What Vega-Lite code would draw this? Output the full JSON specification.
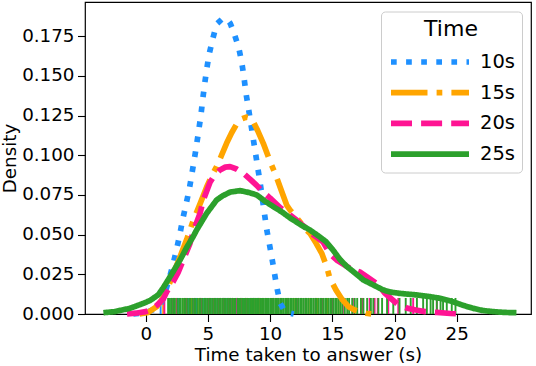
{
  "$schema": "https://vega.github.io/schema/vega-lite/v6.json",
  "width": 446,
  "height": 312,
  "autosize": {"type": "none"},
  "padding": {"left": 85, "top": 2, "right": 5, "bottom": 52},
  "background": "white",
  "datasets": {
    "kde": [
      {"s": "10s", "t": -1.0, "d": 0},
      {"s": "10s", "t": -0.4, "d": 0.0005},
      {"s": "10s", "t": 0.2, "d": 0.0015},
      {"s": "10s", "t": 0.7, "d": 0.003},
      {"s": "10s", "t": 1.15, "d": 0.0055},
      {"s": "10s", "t": 1.5, "d": 0.012},
      {"s": "10s", "t": 1.9, "d": 0.0225},
      {"s": "10s", "t": 2.22, "d": 0.032},
      {"s": "10s", "t": 2.49, "d": 0.041},
      {"s": "10s", "t": 2.76, "d": 0.0508},
      {"s": "10s", "t": 2.97, "d": 0.0596},
      {"s": "10s", "t": 3.24, "d": 0.069},
      {"s": "10s", "t": 3.5, "d": 0.0785},
      {"s": "10s", "t": 3.75, "d": 0.09},
      {"s": "10s", "t": 4.0, "d": 0.102},
      {"s": "10s", "t": 4.25, "d": 0.115},
      {"s": "10s", "t": 4.45, "d": 0.126},
      {"s": "10s", "t": 4.58, "d": 0.135},
      {"s": "10s", "t": 4.74, "d": 0.145},
      {"s": "10s", "t": 4.9, "d": 0.154},
      {"s": "10s", "t": 5.1, "d": 0.1637},
      {"s": "10s", "t": 5.38, "d": 0.173},
      {"s": "10s", "t": 5.7, "d": 0.1826},
      {"s": "10s", "t": 6.1, "d": 0.1855},
      {"s": "10s", "t": 6.5, "d": 0.186},
      {"s": "10s", "t": 6.8, "d": 0.183},
      {"s": "10s", "t": 7.1, "d": 0.1768},
      {"s": "10s", "t": 7.47, "d": 0.168},
      {"s": "10s", "t": 7.72, "d": 0.1585},
      {"s": "10s", "t": 7.9, "d": 0.149},
      {"s": "10s", "t": 8.06, "d": 0.139},
      {"s": "10s", "t": 8.25, "d": 0.13},
      {"s": "10s", "t": 8.65, "d": 0.11},
      {"s": "10s", "t": 9.19, "d": 0.083},
      {"s": "10s", "t": 9.73, "d": 0.053},
      {"s": "10s", "t": 10.13, "d": 0.036},
      {"s": "10s", "t": 10.53, "d": 0.0172},
      {"s": "10s", "t": 10.8, "d": 0.0069},
      {"s": "10s", "t": 11.1, "d": 0.0028},
      {"s": "10s", "t": 11.5, "d": 0.0007},
      {"s": "10s", "t": 11.9, "d": 0},
      {"s": "15s", "t": -0.5, "d": 0},
      {"s": "15s", "t": 0.2, "d": 0.001},
      {"s": "15s", "t": 0.88, "d": 0.0046},
      {"s": "15s", "t": 1.3, "d": 0.009},
      {"s": "15s", "t": 1.69, "d": 0.015},
      {"s": "15s", "t": 2.2, "d": 0.025},
      {"s": "15s", "t": 2.76, "d": 0.036},
      {"s": "15s", "t": 3.3, "d": 0.047},
      {"s": "15s", "t": 3.83, "d": 0.059},
      {"s": "15s", "t": 4.4, "d": 0.07},
      {"s": "15s", "t": 4.9, "d": 0.08},
      {"s": "15s", "t": 5.3, "d": 0.087},
      {"s": "15s", "t": 5.7, "d": 0.0928},
      {"s": "15s", "t": 6.1, "d": 0.1},
      {"s": "15s", "t": 6.5, "d": 0.1075},
      {"s": "15s", "t": 6.9, "d": 0.114},
      {"s": "15s", "t": 7.3, "d": 0.1195},
      {"s": "15s", "t": 7.7, "d": 0.1228},
      {"s": "15s", "t": 8.1, "d": 0.124},
      {"s": "15s", "t": 8.4, "d": 0.1234},
      {"s": "15s", "t": 8.65, "d": 0.121},
      {"s": "15s", "t": 9.0, "d": 0.1155},
      {"s": "15s", "t": 9.45, "d": 0.1075},
      {"s": "15s", "t": 10.0, "d": 0.096},
      {"s": "15s", "t": 10.4, "d": 0.0886},
      {"s": "15s", "t": 10.8, "d": 0.08},
      {"s": "15s", "t": 11.33, "d": 0.0686},
      {"s": "15s", "t": 11.6, "d": 0.0655},
      {"s": "15s", "t": 12.3, "d": 0.059},
      {"s": "15s", "t": 12.9, "d": 0.053},
      {"s": "15s", "t": 13.2, "d": 0.0508},
      {"s": "15s", "t": 13.7, "d": 0.0445},
      {"s": "15s", "t": 14.15, "d": 0.0382},
      {"s": "15s", "t": 14.55, "d": 0.0298},
      {"s": "15s", "t": 14.8, "d": 0.0225},
      {"s": "15s", "t": 15.3, "d": 0.015},
      {"s": "15s", "t": 15.8, "d": 0.009},
      {"s": "15s", "t": 16.3, "d": 0.0046},
      {"s": "15s", "t": 16.8, "d": 0.0025},
      {"s": "15s", "t": 17.2, "d": 0.0015},
      {"s": "15s", "t": 17.7, "d": 0.0005},
      {"s": "15s", "t": 18.2, "d": 0},
      {"s": "20s", "t": -1.5, "d": 0},
      {"s": "20s", "t": -0.8, "d": 0.0005},
      {"s": "20s", "t": 0.0, "d": 0.0015},
      {"s": "20s", "t": 0.35, "d": 0.0025},
      {"s": "20s", "t": 0.9, "d": 0.0055},
      {"s": "20s", "t": 1.41, "d": 0.0095},
      {"s": "20s", "t": 1.69, "d": 0.014},
      {"s": "20s", "t": 2.22, "d": 0.0205},
      {"s": "20s", "t": 2.6, "d": 0.026},
      {"s": "20s", "t": 3.02, "d": 0.034},
      {"s": "20s", "t": 3.56, "d": 0.0445},
      {"s": "20s", "t": 3.83, "d": 0.052},
      {"s": "20s", "t": 4.37, "d": 0.0634},
      {"s": "20s", "t": 4.63, "d": 0.0718},
      {"s": "20s", "t": 5.17, "d": 0.0830},
      {"s": "20s", "t": 5.5, "d": 0.087},
      {"s": "20s", "t": 5.97, "d": 0.0907},
      {"s": "20s", "t": 6.4, "d": 0.0925},
      {"s": "20s", "t": 6.78, "d": 0.0928},
      {"s": "20s", "t": 7.3, "d": 0.0913},
      {"s": "20s", "t": 7.85, "d": 0.0886},
      {"s": "20s", "t": 8.4, "d": 0.0848},
      {"s": "20s", "t": 8.92, "d": 0.081},
      {"s": "20s", "t": 9.4, "d": 0.077},
      {"s": "20s", "t": 10.0, "d": 0.073},
      {"s": "20s", "t": 10.8, "d": 0.067},
      {"s": "20s", "t": 11.5, "d": 0.063},
      {"s": "20s", "t": 12.14, "d": 0.059},
      {"s": "20s", "t": 12.9, "d": 0.054},
      {"s": "20s", "t": 13.47, "d": 0.05},
      {"s": "20s", "t": 14.26, "d": 0.0453},
      {"s": "20s", "t": 14.8, "d": 0.038},
      {"s": "20s", "t": 15.35, "d": 0.034},
      {"s": "20s", "t": 16.4, "d": 0.0288},
      {"s": "20s", "t": 17.2, "d": 0.0265},
      {"s": "20s", "t": 17.76, "d": 0.0235},
      {"s": "20s", "t": 18.6, "d": 0.019},
      {"s": "20s", "t": 19.24, "d": 0.013},
      {"s": "20s", "t": 19.9, "d": 0.0085},
      {"s": "20s", "t": 20.3, "d": 0.0058},
      {"s": "20s", "t": 21.0, "d": 0.0037},
      {"s": "20s", "t": 21.7, "d": 0.0025},
      {"s": "20s", "t": 22.45, "d": 0.0015},
      {"s": "20s", "t": 23.4, "d": 0.001},
      {"s": "20s", "t": 24.5, "d": 0.0003},
      {"s": "20s", "t": 25.5, "d": 0},
      {"s": "25s", "t": -3.4, "d": 0.0008},
      {"s": "25s", "t": -2.5, "d": 0.0015},
      {"s": "25s", "t": -1.26, "d": 0.0036},
      {"s": "25s", "t": -0.19, "d": 0.0067},
      {"s": "25s", "t": 0.35, "d": 0.0085},
      {"s": "25s", "t": 1.0, "d": 0.012},
      {"s": "25s", "t": 1.41, "d": 0.0165},
      {"s": "25s", "t": 2.0, "d": 0.024},
      {"s": "25s", "t": 2.76, "d": 0.034},
      {"s": "25s", "t": 3.3, "d": 0.042},
      {"s": "25s", "t": 3.83, "d": 0.049},
      {"s": "25s", "t": 4.1, "d": 0.053},
      {"s": "25s", "t": 4.9, "d": 0.0634},
      {"s": "25s", "t": 5.7, "d": 0.0718},
      {"s": "25s", "t": 6.2, "d": 0.0745},
      {"s": "25s", "t": 6.8, "d": 0.0768},
      {"s": "25s", "t": 7.58, "d": 0.0777},
      {"s": "25s", "t": 8.3, "d": 0.0765},
      {"s": "25s", "t": 8.92, "d": 0.075},
      {"s": "25s", "t": 9.6, "d": 0.071},
      {"s": "25s", "t": 10.26, "d": 0.0676},
      {"s": "25s", "t": 11.0, "d": 0.064},
      {"s": "25s", "t": 11.6, "d": 0.0605},
      {"s": "25s", "t": 12.4, "d": 0.0565},
      {"s": "25s", "t": 13.2, "d": 0.0529},
      {"s": "25s", "t": 14.0, "d": 0.0485},
      {"s": "25s", "t": 14.5, "d": 0.0455},
      {"s": "25s", "t": 15.08, "d": 0.04},
      {"s": "25s", "t": 15.6, "d": 0.0345},
      {"s": "25s", "t": 16.15, "d": 0.03},
      {"s": "25s", "t": 16.7, "d": 0.0266},
      {"s": "25s", "t": 17.5, "d": 0.0214},
      {"s": "25s", "t": 18.57, "d": 0.0172},
      {"s": "25s", "t": 19.1, "d": 0.0151},
      {"s": "25s", "t": 19.7, "d": 0.0138},
      {"s": "25s", "t": 20.4, "d": 0.013},
      {"s": "25s", "t": 21.8, "d": 0.012},
      {"s": "25s", "t": 22.8, "d": 0.011},
      {"s": "25s", "t": 23.66, "d": 0.0099},
      {"s": "25s", "t": 24.7, "d": 0.0077},
      {"s": "25s", "t": 25.5, "d": 0.0055},
      {"s": "25s", "t": 26.3, "d": 0.0036},
      {"s": "25s", "t": 27.1, "d": 0.0022},
      {"s": "25s", "t": 27.9, "d": 0.0015},
      {"s": "25s", "t": 28.8, "d": 0.001},
      {"s": "25s", "t": 29.8, "d": 0.0008}
    ],
    "rug": [
      {"s": "10s", "t": 1.2}, {"s": "10s", "t": 2.1}, {"s": "10s", "t": 2.6}, {"s": "10s", "t": 3.0}, {"s": "10s", "t": 3.4},
      {"s": "10s", "t": 3.8}, {"s": "10s", "t": 4.1}, {"s": "10s", "t": 4.4}, {"s": "10s", "t": 4.7}, {"s": "10s", "t": 4.9},
      {"s": "10s", "t": 5.1}, {"s": "10s", "t": 5.3}, {"s": "10s", "t": 5.5}, {"s": "10s", "t": 5.7}, {"s": "10s", "t": 5.8},
      {"s": "10s", "t": 6.0}, {"s": "10s", "t": 6.2}, {"s": "10s", "t": 6.3}, {"s": "10s", "t": 6.5}, {"s": "10s", "t": 6.6},
      {"s": "10s", "t": 6.8}, {"s": "10s", "t": 7.0}, {"s": "10s", "t": 7.1}, {"s": "10s", "t": 7.3}, {"s": "10s", "t": 7.5},
      {"s": "10s", "t": 7.7}, {"s": "10s", "t": 7.9}, {"s": "10s", "t": 8.1}, {"s": "10s", "t": 8.4}, {"s": "10s", "t": 8.7},
      {"s": "10s", "t": 9.0}, {"s": "10s", "t": 9.4}, {"s": "10s", "t": 9.8}, {"s": "10s", "t": 10.2}, {"s": "10s", "t": 10.6},
      {"s": "15s", "t": 1.4}, {"s": "15s", "t": 2.3}, {"s": "15s", "t": 3.1}, {"s": "15s", "t": 3.7}, {"s": "15s", "t": 4.3},
      {"s": "15s", "t": 4.8}, {"s": "15s", "t": 5.2}, {"s": "15s", "t": 5.6}, {"s": "15s", "t": 6.0}, {"s": "15s", "t": 6.4},
      {"s": "15s", "t": 6.8}, {"s": "15s", "t": 7.1}, {"s": "15s", "t": 7.4}, {"s": "15s", "t": 7.7}, {"s": "15s", "t": 8.0},
      {"s": "15s", "t": 8.2}, {"s": "15s", "t": 8.5}, {"s": "15s", "t": 8.8}, {"s": "15s", "t": 9.1}, {"s": "15s", "t": 9.4},
      {"s": "15s", "t": 9.7}, {"s": "15s", "t": 10.1}, {"s": "15s", "t": 10.5}, {"s": "15s", "t": 10.9}, {"s": "15s", "t": 11.4},
      {"s": "15s", "t": 11.9}, {"s": "15s", "t": 12.5}, {"s": "15s", "t": 13.1}, {"s": "15s", "t": 13.8}, {"s": "15s", "t": 14.6},
      {"s": "15s", "t": 15.5}, {"s": "15s", "t": 17.3},
      {"s": "20s", "t": 1.5}, {"s": "20s", "t": 2.2}, {"s": "20s", "t": 2.5}, {"s": "20s", "t": 3.25}, {"s": "20s", "t": 3.9},
      {"s": "20s", "t": 4.45}, {"s": "20s", "t": 5.05}, {"s": "20s", "t": 5.45}, {"s": "20s", "t": 5.85}, {"s": "20s", "t": 6.25},
      {"s": "20s", "t": 6.65}, {"s": "20s", "t": 6.95}, {"s": "20s", "t": 7.35}, {"s": "20s", "t": 7.65}, {"s": "20s", "t": 8.05},
      {"s": "20s", "t": 8.65}, {"s": "20s", "t": 9.05}, {"s": "20s", "t": 9.65}, {"s": "20s", "t": 10.25}, {"s": "20s", "t": 10.85},
      {"s": "20s", "t": 11.45}, {"s": "20s", "t": 12.25}, {"s": "20s", "t": 12.85}, {"s": "20s", "t": 13.65}, {"s": "20s", "t": 14.25},
      {"s": "20s", "t": 15.05}, {"s": "20s", "t": 15.95}, {"s": "20s", "t": 16.65}, {"s": "20s", "t": 17.45}, {"s": "20s", "t": 18.0},
      {"s": "20s", "t": 18.4}, {"s": "20s", "t": 18.65}, {"s": "20s", "t": 19.5}, {"s": "20s", "t": 20.3}, {"s": "20s", "t": 21.5},
      {"s": "20s", "t": 23.4},
      {"s": "25s", "t": 1.8}, {"s": "25s", "t": 1.95}, {"s": "25s", "t": 2.1}, {"s": "25s", "t": 2.25}, {"s": "25s", "t": 2.35},
      {"s": "25s", "t": 2.55}, {"s": "25s", "t": 2.7}, {"s": "25s", "t": 2.8}, {"s": "25s", "t": 2.95}, {"s": "25s", "t": 3.1},
      {"s": "25s", "t": 3.2}, {"s": "25s", "t": 3.35}, {"s": "25s", "t": 3.5}, {"s": "25s", "t": 3.6}, {"s": "25s", "t": 3.75},
      {"s": "25s", "t": 3.9}, {"s": "25s", "t": 4.0}, {"s": "25s", "t": 4.15}, {"s": "25s", "t": 4.3}, {"s": "25s", "t": 4.4},
      {"s": "25s", "t": 4.55}, {"s": "25s", "t": 4.7}, {"s": "25s", "t": 4.8}, {"s": "25s", "t": 4.95}, {"s": "25s", "t": 5.1},
      {"s": "25s", "t": 5.2}, {"s": "25s", "t": 5.35}, {"s": "25s", "t": 5.5}, {"s": "25s", "t": 5.6}, {"s": "25s", "t": 5.75},
      {"s": "25s", "t": 5.9}, {"s": "25s", "t": 6.0}, {"s": "25s", "t": 6.15}, {"s": "25s", "t": 6.3}, {"s": "25s", "t": 6.4},
      {"s": "25s", "t": 6.55}, {"s": "25s", "t": 6.7}, {"s": "25s", "t": 6.8}, {"s": "25s", "t": 6.95}, {"s": "25s", "t": 7.1},
      {"s": "25s", "t": 7.2}, {"s": "25s", "t": 7.4}, {"s": "25s", "t": 7.5}, {"s": "25s", "t": 7.6}, {"s": "25s", "t": 7.75},
      {"s": "25s", "t": 7.9}, {"s": "25s", "t": 8.0}, {"s": "25s", "t": 8.15}, {"s": "25s", "t": 8.3}, {"s": "25s", "t": 8.45},
      {"s": "25s", "t": 8.55}, {"s": "25s", "t": 8.7}, {"s": "25s", "t": 8.85}, {"s": "25s", "t": 8.95}, {"s": "25s", "t": 9.1},
      {"s": "25s", "t": 9.25}, {"s": "25s", "t": 9.35}, {"s": "25s", "t": 9.5}, {"s": "25s", "t": 9.65}, {"s": "25s", "t": 9.75},
      {"s": "25s", "t": 9.9}, {"s": "25s", "t": 10.05}, {"s": "25s", "t": 10.15}, {"s": "25s", "t": 10.3}, {"s": "25s", "t": 10.45},
      {"s": "25s", "t": 10.55}, {"s": "25s", "t": 10.7}, {"s": "25s", "t": 10.85}, {"s": "25s", "t": 10.95}, {"s": "25s", "t": 11.1},
      {"s": "25s", "t": 11.25}, {"s": "25s", "t": 11.35}, {"s": "25s", "t": 11.5}, {"s": "25s", "t": 11.65}, {"s": "25s", "t": 11.75},
      {"s": "25s", "t": 11.9}, {"s": "25s", "t": 12.05}, {"s": "25s", "t": 12.15}, {"s": "25s", "t": 12.3}, {"s": "25s", "t": 12.45},
      {"s": "25s", "t": 12.55}, {"s": "25s", "t": 12.7}, {"s": "25s", "t": 12.85}, {"s": "25s", "t": 12.95}, {"s": "25s", "t": 13.1},
      {"s": "25s", "t": 13.25}, {"s": "25s", "t": 13.35}, {"s": "25s", "t": 13.5}, {"s": "25s", "t": 13.65}, {"s": "25s", "t": 13.75},
      {"s": "25s", "t": 13.9}, {"s": "25s", "t": 14.05}, {"s": "25s", "t": 14.15}, {"s": "25s", "t": 14.3}, {"s": "25s", "t": 14.45},
      {"s": "25s", "t": 14.55}, {"s": "25s", "t": 14.7}, {"s": "25s", "t": 14.85}, {"s": "25s", "t": 14.95}, {"s": "25s", "t": 15.1},
      {"s": "25s", "t": 15.25}, {"s": "25s", "t": 15.35}, {"s": "25s", "t": 15.5}, {"s": "25s", "t": 15.65}, {"s": "25s", "t": 15.8},
      {"s": "25s", "t": 16.0}, {"s": "25s", "t": 16.2}, {"s": "25s", "t": 16.35}, {"s": "25s", "t": 16.6}, {"s": "25s", "t": 16.8},
      {"s": "25s", "t": 17.0}, {"s": "25s", "t": 17.3}, {"s": "25s", "t": 17.5}, {"s": "25s", "t": 17.8}, {"s": "25s", "t": 18.1},
      {"s": "25s", "t": 18.3}, {"s": "25s", "t": 18.7}, {"s": "25s", "t": 19.0}, {"s": "25s", "t": 19.4}, {"s": "25s", "t": 19.9},
      {"s": "25s", "t": 20.4}, {"s": "25s", "t": 20.9}, {"s": "25s", "t": 21.3}, {"s": "25s", "t": 21.8}, {"s": "25s", "t": 22.3},
      {"s": "25s", "t": 22.6}, {"s": "25s", "t": 22.9}, {"s": "25s", "t": 23.1}, {"s": "25s", "t": 23.4}, {"s": "25s", "t": 23.7},
      {"s": "25s", "t": 23.9}, {"s": "25s", "t": 24.2}, {"s": "25s", "t": 24.6}, {"s": "25s", "t": 24.9}
    ]
  },
  "resolve": {"legend": {"color": "independent", "strokeDash": "independent"}},
  "layer": [
    {
      "data": {"name": "rug"},
      "mark": {"type": "rule", "strokeWidth": 1.9},
      "encoding": {
        "x": {"field": "t", "type": "quantitative"},
        "y": {"datum": 0},
        "y2": {"datum": 0.0101},
        "color": {"field": "s", "type": "nominal", "legend": null}
      }
    },
    {
      "data": {"name": "kde"},
      "mark": {"type": "line", "strokeWidth": 5.7, "strokeJoin": "round"},
      "encoding": {
        "x": {
          "field": "t", "type": "quantitative",
          "scale": {"domain": [-4.88, 30.97], "nice": false, "zero": false},
          "axis": {"values": [0, 5, 10, 15, 20, 25], "title": "Time taken to answer (s)"}
        },
        "y": {
          "field": "d", "type": "quantitative",
          "scale": {"domain": [0, 0.1965], "nice": false},
          "axis": {"values": [0, 0.025, 0.05, 0.075, 0.1, 0.125, 0.15, 0.175], "format": ".3f", "title": "Density"}
        },
        "color": {
          "field": "s", "type": "nominal", "title": "Time",
          "scale": {"domain": ["10s", "15s", "20s", "25s"], "range": ["#1e90ff", "#ffa500", "#ff1493", "#2ca02c"]}
        },
        "strokeDash": {
          "field": "s", "type": "nominal", "title": "Time",
          "scale": {"domain": ["10s", "15s", "20s", "25s"], "range": [[5.7, 9.4], [36.5, 9.1, 5.7, 9.1], [21, 9.1], [1, 0]]}
        }
      }
    }
  ],
  "config": {
    "font": "DejaVu Sans",
    "view": {"stroke": "black", "strokeWidth": 1.2},
    "axis": {
      "domain": false,
      "grid": false,
      "tickColor": "black",
      "tickSize": 7.5,
      "tickWidth": 1.1,
      "labelFont": "DejaVu Sans",
      "labelFontSize": 18.3,
      "labelColor": "black",
      "labelPadding": 3.5,
      "titleFont": "DejaVu Sans",
      "titleFontSize": 18.3,
      "titleFontWeight": "normal",
      "titleColor": "black",
      "titlePadding": 4
    },
    "axisY": {"titlePadding": 2},
    "legend": {
      "orient": "none",
      "legendX": 296,
      "legendY": 9.5,
      "padding": 7,
      "strokeColor": "#cccccc",
      "cornerRadius": 4,
      "fillColor": "white",
      "titleFont": "DejaVu Sans",
      "titleFontSize": 22,
      "titleFontWeight": "normal",
      "titleColor": "black",
      "titleAnchor": "middle",
      "titlePadding": 5.5,
      "labelFont": "DejaVu Sans",
      "labelFontSize": 19.5,
      "labelColor": "black",
      "labelOffset": 60,
      "symbolType": "M-1,0H5",
      "symbolSize": 676,
      "symbolStrokeWidth": 5.7,
      "rowPadding": 2.7
    }
  }
}
